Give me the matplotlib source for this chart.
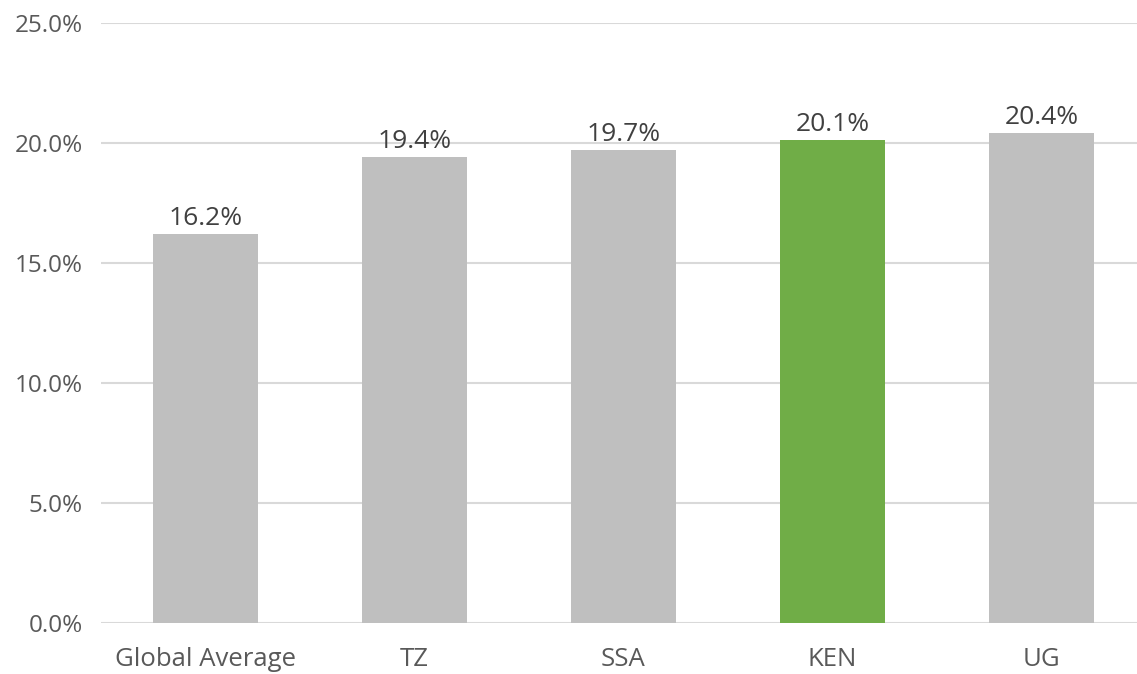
import matplotlib.pyplot as plt
from matplotlib.ticker import FuncFormatter

plt.rcParams['font.family'] = ['Open Sans', 'DejaVu Sans']

categories = ['Global Average', 'TZ', 'SSA', 'KEN', 'UG']
values = [16.2, 19.4, 19.7, 20.1, 20.4]
highlight = 'KEN'

GREY, GREEN = '#BFBFBF', '#70AD47'
colors = [GREEN if c == highlight else GREY for c in categories]

fig = plt.figure(figsize=(11.37, 6.74), dpi=100)
ax = fig.add_axes([101 / 1137, 51 / 674, 1036 / 1137, 600.5 / 674])

x = range(len(categories))
bars = ax.bar(x, values, width=0.5, color=colors, zorder=3)
for b, v in zip(bars, values):
    ax.annotate(f'{v:.1f}%', (b.get_x() + b.get_width() / 2, v),
                xytext=(0, 2), textcoords='offset points',
                ha='center', va='bottom', fontsize=19, color='#404040')

ax.set_xlim(-0.5, 4.457)
ax.set_ylim(0, 25)
ax.set_yticks([0, 5, 10, 15, 20, 25])
ax.yaxis.set_major_formatter(FuncFormatter(lambda v, p: f'{v:.1f}%'))
ax.set_xticks(list(x))
ax.set_xticklabels(categories)
ax.grid(axis='y', color='#D9D9D9', linewidth=1.5, zorder=0)
ax.tick_params(axis='y', length=0, pad=13, labelsize=17.5, labelcolor='#595959')
ax.tick_params(axis='x', length=0, pad=17, labelsize=18.5, labelcolor='#595959')
for s in ax.spines.values():
    s.set_visible(False)

fig.savefig('out.png', dpi=100)
